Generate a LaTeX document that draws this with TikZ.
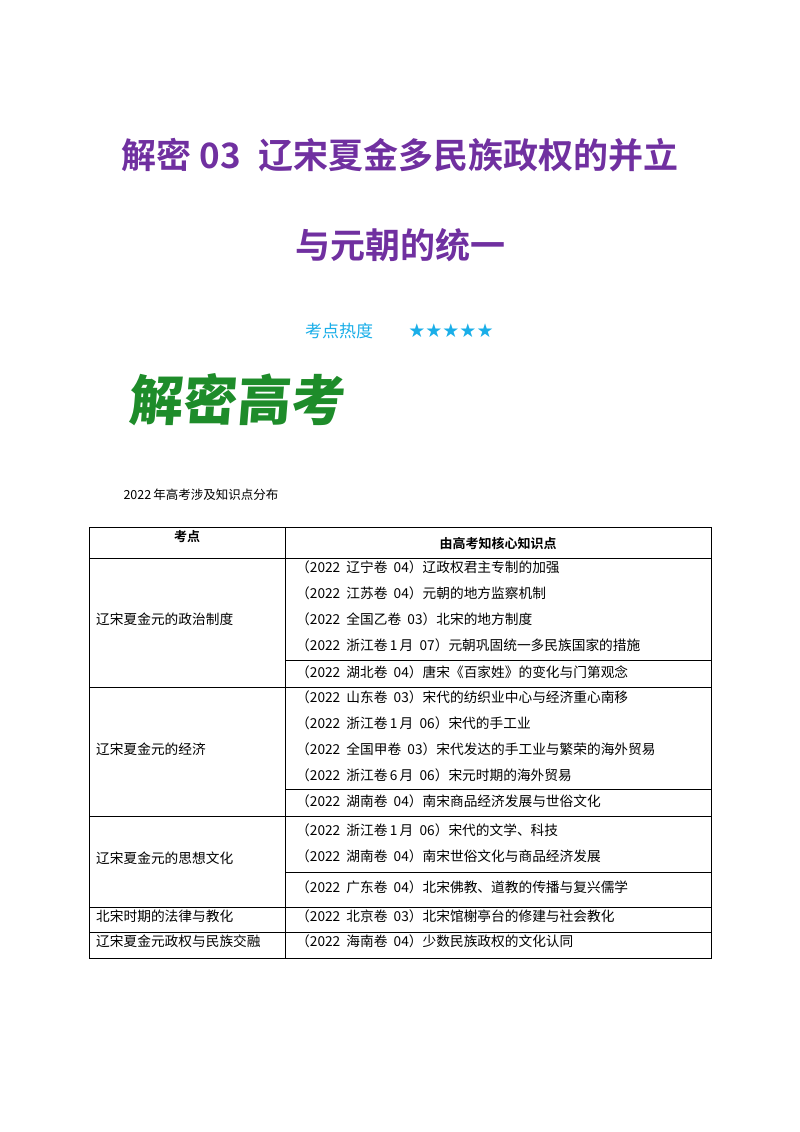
\documentclass[tikz,border=0pt]{standalone}
\usepackage{fontspec}
\setmainfont{Liberation Serif}
\newfontfamily\cjk{Noto Sans CJK SC}
\newfontfamily\cjkb{Noto Sans CJK SC Bold}
\newfontfamily\cjkbl{Noto Sans CJK SC Black}
\newfontfamily\sym{DejaVu Sans}
\definecolor{ttl}{HTML}{7030A0}
\definecolor{hot}{HTML}{1AAEE8}
\definecolor{gr}{HTML}{1E8C2A}
\newcommand{\gp}{\hspace{0.45em}}
\begin{document}
\begin{tikzpicture}[x=1pt,y=-1pt,
  cell/.style={anchor=west,inner sep=0pt,font=\cjk\fontsize{13.7}{15}\selectfont},
  hd/.style={inner sep=0pt,font=\cjkb\fontsize{13}{15}\selectfont},
  tl/.style={line width=0.6pt}]
\useasboundingbox (0,0) rectangle (800,1132);
\node[text=ttl,font=\cjkb\fontsize{35}{40}\selectfont] (t1) at (400,155) {解密 03\hspace{0.5em}辽宋夏金多民族政权的并立};
\node[text=ttl,font=\cjkb\fontsize{35}{40}\selectfont] (t2) at (400,245) {与元朝的统一};
\node[text=hot,font=\cjk\fontsize{17}{20}\selectfont] (hd) at (339,331) {考点热度};
\node[text=hot,font=\sym\fontsize{19}{20}\selectfont] (st) at (451,331) {★★★★★};
\node[text=gr,font=\cjkbl\fontsize{54}{60}\selectfont,xslant=0.08] (logo) at (238,400) {解密高考};
\node[anchor=west,font=\cjk\fontsize{12.5}{14}\selectfont] (cap) at (120,495) {2022\,年高考涉及知识点分布};
% table
\draw[tl] (89,527) rectangle (711,958);
\draw[tl] (285,527) -- (285,958);
\foreach \y in {558,687,816,907,932} \draw[tl] (89,\y) -- (711,\y);
\foreach \y in {660,789,872} \draw[tl] (285,\y) -- (711,\y);
\node[hd] (h1) at (187,537) {考点};
\node[hd] (h2) at (498,543) {由高考知核心知识点};
\node[cell] (a) at (96,619) {辽宋夏金元的政治制度};
\node[cell] (b) at (96,749) {辽宋夏金元的经济};
\node[cell] (c) at (96,858) {辽宋夏金元的思想文化};
\node[cell] (d) at (96,916) {北宋时期的法律与教化};
\node[cell] (e) at (96,941) {辽宋夏金元政权与民族交融};
\node[cell] (r1) at (296,567) {（2022\gp 辽宁卷\gp 04）辽政权君主专制的加强};
\node[cell] (r2) at (296,593) {（2022\gp 江苏卷\gp 04）元朝的地方监察机制};
\node[cell] (r3) at (296,619) {（2022\gp 全国乙卷\gp 03）北宋的地方制度};
\node[cell] (r4) at (296,645) {（2022\gp 浙江卷\,1\,月\gp 07）元朝巩固统一多民族国家的措施};
\node[cell] (r5) at (296,672) {（2022\gp 湖北卷\gp 04）唐宋《百家姓》的变化与门第观念};
\node[cell] (r6) at (296,697) {（2022\gp 山东卷\gp 03）宋代的纺织业中心与经济重心南移};
\node[cell] (r7) at (296,723) {（2022\gp 浙江卷\,1\,月\gp 06）宋代的手工业};
\node[cell] (r8) at (296,749) {（2022\gp 全国甲卷\gp 03）宋代发达的手工业与繁荣的海外贸易};
\node[cell] (r9) at (296,775) {（2022\gp 浙江卷\,6\,月\gp 06）宋元时期的海外贸易};
\node[cell] (r10) at (296,801) {（2022\gp 湖南卷\gp 04）南宋商品经济发展与世俗文化};
\node[cell] (r11) at (296,830) {（2022\gp 浙江卷\,1\,月\gp 06）宋代的文学、科技};
\node[cell] (r12) at (296,856) {（2022\gp 湖南卷\gp 04）南宋世俗文化与商品经济发展};
\node[cell] (r13) at (296,887) {（2022\gp 广东卷\gp 04）北宋佛教、道教的传播与复兴儒学};
\node[cell] (r14) at (296,916) {（2022\gp 北京卷\gp 03）北宋馆榭亭台的修建与社会教化};
\node[cell] (r15) at (296,941) {（2022\gp 海南卷\gp 04）少数民族政权的文化认同};
\end{tikzpicture}
\end{document}
